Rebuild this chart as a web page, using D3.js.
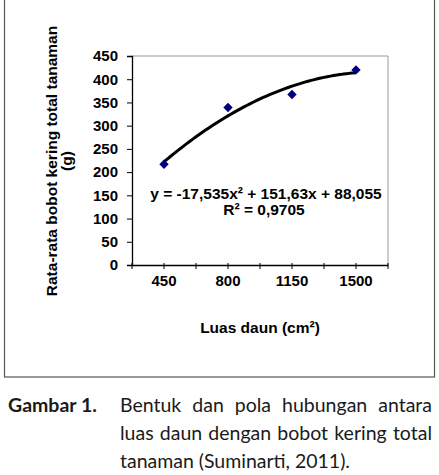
<!DOCTYPE html>
<html><head><meta charset="utf-8">
<script src="https://cdn.jsdelivr.net/npm/d3@7/dist/d3.min.js"></script>
<style>
html,body{margin:0;padding:0;background:#fff;width:439px;height:475px;overflow:hidden;}
#cap{position:absolute;left:0;top:0;width:439px;font-family:Lato,"Open Sans",sans-serif;font-size:19.5px;color:#1a1a1a;}
#cap .lab{position:absolute;left:8px;top:393px;font-weight:bold;line-height:24px;}
#cap .ln{position:absolute;left:120px;width:312px;line-height:24px;white-space:nowrap;}
#cap .j{display:flex;justify-content:space-between;}
#cap .n span{margin-right:0.25em;}
</style></head>
<body>
<svg id="chart" width="439" height="380" style="position:absolute;left:0;top:0"></svg>
<div id="cap"></div>
<script>
const categories = ["450", "800", "1150", "1500"];
const values = [217, 339, 367, 420];
const yTicks = [0, 50, 100, 150, 200, 250, 300, 350, 400, 450];
const trendCoef = [-17.535, 151.63, 88.055]; // a, b, c of displayed trendline
const eqText = "y = -17,535x² + 151,63x + 88,055";
const r2Text = "R² = 0,9705";
const yTitle = ["Rata-rata bobot kering total tanaman", "(g)"];
const xTitle = "Luas daun (cm²)";
const captionLabel = "Gambar 1.";
const captionLines = ["Bentuk dan pola hubungan antara", "luas daun dengan bobot kering total", "tanaman (Suminarti, 2011)."];

const svg = d3.select("#chart");
const font = "'Liberation Sans', Arial, sans-serif";
svg.append("rect").attr("x",4.5).attr("y",-5).attr("width",430).attr("height",382)
  .attr("fill","#fff").attr("stroke","#555").attr("stroke-width",1.2);

const L=132, R=388, T=56, B=265;
const x = d3.scaleBand().domain(categories).range([L,R]).padding(0);
const y = d3.scaleLinear().domain([0,450]).range([B,T]);
const idx = d3.scaleLinear().domain([1,4]).range([x(categories[0])+x.bandwidth()/2, x(categories[3])+x.bandwidth()/2]);

// plot area border (gray)
svg.append("path").attr("d",`M${L},${T}H${R}V${B}`).attr("fill","none").attr("stroke","#9a9a9a").attr("stroke-width",1);

// y axis
const ya = svg.append("g").attr("transform",`translate(${L},0)`)
  .call(d3.axisLeft(y).tickValues(yTicks).tickSize(5).tickPadding(9));
ya.select(".domain").attr("stroke","#000").attr("stroke-width",1.3);
ya.selectAll(".tick line").attr("stroke","#000").attr("x2",-5).attr("x1",1);
ya.selectAll("text").attr("font-family",font).attr("font-weight","bold").attr("font-size","15px").attr("fill","#000");

// x axis
const xa = svg.append("g").attr("transform",`translate(0,${B})`)
  .call(d3.axisBottom(x).tickSize(0).tickPadding(10));
xa.select(".domain").attr("stroke","#000").attr("stroke-width",1.3);
xa.selectAll("text").attr("font-family",font).attr("font-weight","bold").attr("font-size","15px").attr("fill","#000");
const tickPos = [];
categories.forEach(c=>{tickPos.push(x(c)); tickPos.push(x(c)+x.bandwidth()/2);});
tickPos.push(R);
xa.selectAll("line.t").data(tickPos).enter().append("line").attr("class","t")
  .attr("x1",d=>d).attr("x2",d=>d).attr("y1",-2).attr("y2",4).attr("stroke","#000").attr("stroke-width",1);

// trendline
const ts = d3.range(1, 4.0001, 0.05);
const line = d3.line().x(t=>idx(t)).y(t=>y(trendCoef[0]*t*t + trendCoef[1]*t + trendCoef[2])).curve(d3.curveBasis);
svg.append("path").datum(ts).attr("d",line).attr("fill","none").attr("stroke","#000").attr("stroke-width",3);

// markers
svg.selectAll("path.pt").data(values).enter().append("path").attr("class","pt")
  .attr("d",d3.symbol().type(d3.symbolSquare).size(44)())
  .attr("transform",(d,i)=>`translate(${x(categories[i])+x.bandwidth()/2},${y(d)}) rotate(45)`)
  .attr("fill","#000080");

// equation
svg.append("text").attr("x",266).attr("y",199).attr("text-anchor","middle")
  .attr("font-family",font).attr("font-weight","bold").attr("font-size","15.5px").text(eqText);
svg.append("text").attr("x",264).attr("y",215).attr("text-anchor","middle")
  .attr("font-family",font).attr("font-weight","bold").attr("font-size","15.5px").text(r2Text);

// y title
svg.append("text").attr("transform","translate(57,161) rotate(-90)").attr("text-anchor","middle")
  .attr("font-family",font).attr("font-weight","bold").attr("font-size","15.5px").text(yTitle[0]);
svg.append("text").attr("transform","translate(72,161) rotate(-90)").attr("text-anchor","middle")
  .attr("font-family",font).attr("font-weight","bold").attr("font-size","15.5px").text(yTitle[1]);

// x title
svg.append("text").attr("x",260).attr("y",333).attr("text-anchor","middle")
  .attr("font-family",font).attr("font-weight","bold").attr("font-size","15.5px").text(xTitle);

// caption
const cap = d3.select("#cap");
cap.append("div").attr("class","lab").text(captionLabel);
captionLines.forEach((t,i)=>{
  const last = i===captionLines.length-1;
  const d = cap.append("div").attr("class","ln " + (last?"n":"j")).style("top",(393 + i*28)+"px");
  d.selectAll("span").data(t.split(" ")).enter().append("span").text(w=>w);
});
</script>
</body></html>
